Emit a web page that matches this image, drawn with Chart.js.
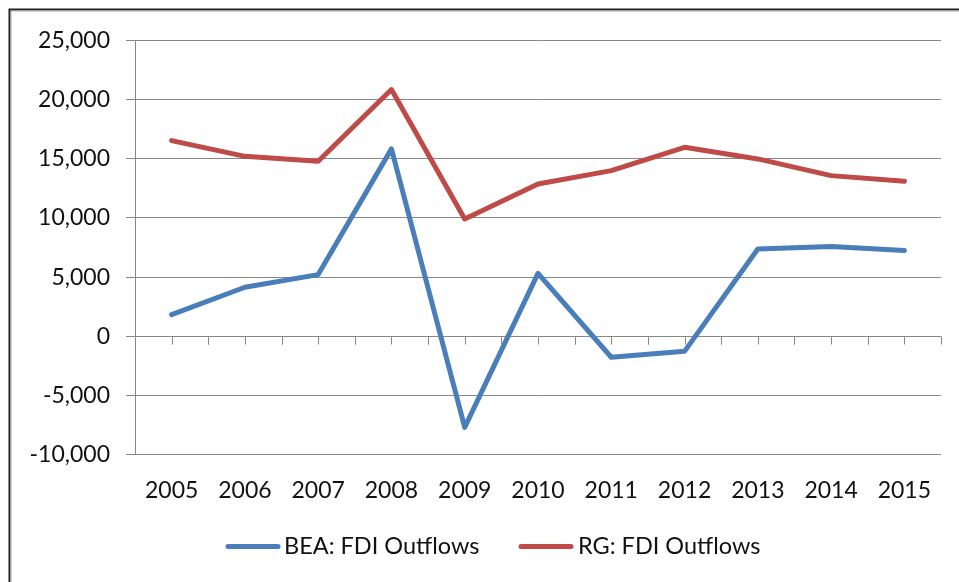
<!DOCTYPE html>
<html>
<head>
<meta charset="utf-8">
<script src="https://cdn.jsdelivr.net/npm/chart.js@4"></script>
<style>
html,body{margin:0;padding:0;background:#fff;}
#wrap{position:relative;width:959px;height:582px;overflow:hidden;}
canvas{display:block;}
</style>
</head>
<body>
<div id="wrap"><canvas id="c" width="959" height="582"></canvas></div>
<script>
const years = ['2005','2006','2007','2008','2009','2010','2011','2012','2013','2014','2015'];
const beaOutflows = [1830, 4140, 5210, 15830, -7690, 5320, -1770, -1270, 7380, 7580, 7240];
const rgOutflows = [16530, 15200, 14780, 20840, 9915, 12870, 13990, 15960, 14980, 13570, 13090];
const seriesNames = ['BEA: FDI Outflows', 'RG: FDI Outflows'];
const seriesColors = ['#4A7EBB', '#BE4B48'];
const yMin = -10000, yMax = 25000, yStep = 5000;

const FONT = 'Lato, "Open Sans", sans-serif';
const TEXT_COLOR = '#111';
const PLOT_LEFT = 135, PLOT_TOP = 40.3, PLOT_BOTTOM = 454.7, PLOT_RIGHT = 941;

const framePlugin = {
  id: 'frame',
  beforeDraw(chart) {
    const ctx = chart.ctx;
    ctx.save();
    ctx.fillStyle = '#fff';
    ctx.fillRect(0, 0, chart.width, chart.height);
    ctx.strokeStyle = '#222';
    ctx.lineWidth = 2;
    ctx.beginPath();
    ctx.moveTo(9.5, chart.height + 5);
    ctx.lineTo(9.5, 9.5);
    ctx.lineTo(chart.width + 5, 9.5);
    ctx.stroke();
    ctx.strokeStyle = '#aaa';
    ctx.lineWidth = 1;
    ctx.beginPath();
    ctx.moveTo(11, chart.height + 5);
    ctx.lineTo(11, 11);
    ctx.lineTo(chart.width + 5, 11);
    ctx.stroke();
    ctx.restore();
  }
};

const zeroAxisPlugin = {
  id: 'zeroAxis',
  afterDatasetsDraw(chart) {
    const ctx = chart.ctx;
    const xs = chart.scales.x, ys = chart.scales.y;
    const y0 = Math.round(ys.getPixelForValue(0)) + 0.5;
    const n = years.length;
    const half = (xs.getPixelForValue(1) - xs.getPixelForValue(0)) / 2;
    ctx.save();
    ctx.strokeStyle = '#888';
    ctx.lineWidth = 1;
    ctx.beginPath();
    for (let i = 0; i < n; i++) {
      const c = xs.getPixelForValue(i);
      [c - half, c, c + half].forEach(px => {
        const x = Math.round(px) + 0.5;
        ctx.moveTo(x, y0);
        ctx.lineTo(x, y0 + 8);
      });
    }
    ctx.stroke();
    ctx.restore();
  },
  afterDraw(chart) {
    const ctx = chart.ctx;
    const items = [
      {x0: 226, x1: 280, tx: 284},
      {x0: 519, x1: 573, tx: 578}
    ];
    const ly = 546.5;
    ctx.save();
    ctx.font = '23.5px ' + FONT;
    ctx.textBaseline = 'middle';
    ctx.textAlign = 'left';
    items.forEach((it, i) => {
      ctx.strokeStyle = seriesColors[i];
      ctx.lineWidth = 5;
      ctx.lineCap = 'round';
      ctx.beginPath();
      ctx.moveTo(it.x0 + 2, ly);
      ctx.lineTo(it.x1 - 2, ly);
      ctx.stroke();
      ctx.fillStyle = TEXT_COLOR;
      ctx.fillText(seriesNames[i], it.tx, ly);
    });
    ctx.restore();
  }
};

new Chart(document.getElementById('c'), {
  type: 'line',
  data: {
    labels: years,
    datasets: [
      {label: seriesNames[0], data: beaOutflows, borderColor: seriesColors[0], backgroundColor: seriesColors[0]},
      {label: seriesNames[1], data: rgOutflows, borderColor: seriesColors[1], backgroundColor: seriesColors[1]}
    ].map(d => Object.assign(d, {borderWidth: 5, pointRadius: 0, tension: 0, borderJoinStyle: 'round', borderCapStyle: 'round', fill: false}))
  },
  options: {
    responsive: false,
    animation: false,
    devicePixelRatio: 1,
    layout: {padding: {left: 0, top: PLOT_TOP, right: 959 - PLOT_RIGHT, bottom: 0}},
    plugins: {legend: {display: false}, tooltip: {enabled: false}, title: {display: false}},
    scales: {
      x: {
        type: 'category',
        offset: true,
        grid: {display: false, drawTicks: false},
        border: {display: false},
        ticks: {color: TEXT_COLOR, font: {family: FONT, size: 23}, padding: 22, maxRotation: 0, autoSkip: false},
        afterFit(scale) { scale.height = 582 - PLOT_BOTTOM; }
      },
      y: {
        min: yMin, max: yMax,
        grid: {color: '#888', lineWidth: 1, tickLength: 9},
        border: {display: true, color: '#888', width: 1},
        ticks: {stepSize: yStep, color: TEXT_COLOR, font: {family: FONT, size: 23}, padding: 16,
          callback: v => Number(v).toLocaleString('en-US')},
        afterFit(scale) { scale.width = PLOT_LEFT; }
      }
    }
  },
  plugins: [framePlugin, zeroAxisPlugin]
});
</script>
</body>
</html>
